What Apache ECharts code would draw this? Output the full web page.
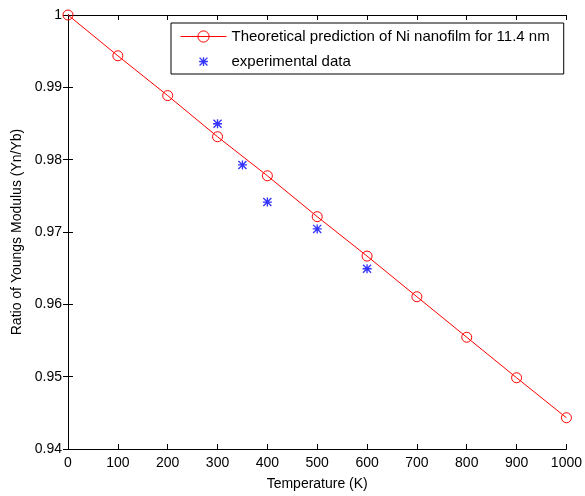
<!DOCTYPE html>
<html><head><meta charset="utf-8">
<script src="https://cdn.jsdelivr.net/npm/echarts@6/dist/echarts.min.js"></script>
<style>html,body{margin:0;padding:0;background:#fff}#c{width:585px;height:496px}</style>
</head><body><div id="c"></div>
<script>
const temps = [0,100,200,300,400,500,600,700,800,900,1000];
const theory = [1.0,0.99436,0.98886,0.98317,0.97777,0.97212,0.96667,0.96105,0.95545,0.94985,0.94432];
const expT = [300,350,400,500,600];
const expV = [0.98497,0.97927,0.97414,0.97043,0.96492];
const xTicks = [0,100,200,300,400,500,600,700,800,900,1000];
const yTicks = [0.94,0.95,0.96,0.97,0.98,0.99,1];

const FONT = 'Liberation Sans';
const starCore = 'M8.5 0L11.5 0L11.5 20L8.5 20Z M0 8.5L20 8.5L20 11.5L0 11.5Z M0 2.1L2.1 0L20 17.9L17.9 20Z M17.9 0L20 2.1L2.1 20L0 17.9Z';
const star = 'path://' + starCore;
// legend icon: same star with tiny corner marks to shrink it inside the icon box
const starIcon = 'path://' + starCore + ' M-6 -6L-5.9 -6L-6 -5.9Z M26 26L25.9 26L26 25.9Z';
const chart = echarts.init(document.getElementById('c'), null, {renderer:'canvas'});
const axLine = {show:true, lineStyle:{color:'#000', width:1}};
const tick = {show:true, inside:true, length:5, lineStyle:{color:'#000'}};
const fmtY = v => String(+v.toFixed(2));
const fmtX = v => String(Math.round(v));
chart.setOption({
  animation:false,
  backgroundColor:'#fff',
  textStyle:{fontFamily:FONT},
  grid:{left:68, right:18, top:15, bottom:46, containLabel:false},
  legend:{
    orient:'vertical', left:171, top:23,
    padding:[6,14,5,9], itemGap:10, itemWidth:46, itemHeight:14,
    borderColor:'#000', borderWidth:1, backgroundColor:'#fff',
    lineStyle:{width:1},
    itemStyle:{borderWidth:1},
    textStyle:{fontFamily:FONT, fontSize:15, color:'#000', lineHeight:15},
    data:[
      {name:'Theoretical prediction of Ni nanofilm for 11.4 nm'},
      {name:'experimental data', icon:starIcon}
    ]
  },
  xAxis:[{
    type:'value', min:0, max:1000, interval:100, position:'bottom',
    name:'Temperature (K)', nameLocation:'middle', nameGap:28,
    nameTextStyle:{fontFamily:FONT, fontSize:14, color:'#000'},
    axisLine:axLine, axisTick:tick, splitLine:{show:false},
    axisLabel:{color:'#000', fontFamily:FONT, fontSize:14, margin:7, formatter:fmtX}
  },{
    type:'value', min:0, max:1000, interval:100, position:'top',
    axisLine:axLine, axisTick:tick, splitLine:{show:false}, axisLabel:{show:false}
  }],
  yAxis:[{
    type:'value', min:0.94, max:1, interval:0.01, position:'left',
    name:'Ratio of Youngs Modulus (Yn/Yb)', nameLocation:'middle', nameGap:43,
    nameTextStyle:{fontFamily:FONT, fontSize:14, color:'#000'},
    axisLine:axLine, axisTick:tick, splitLine:{show:false},
    axisLabel:{color:'#000', fontFamily:FONT, fontSize:14, margin:6, formatter:fmtY}
  },{
    type:'value', min:0.94, max:1, interval:0.01, position:'right',
    axisLine:axLine, axisTick:tick, splitLine:{show:false}, axisLabel:{show:false}
  }],
  series:[{
    name:'Theoretical prediction of Ni nanofilm for 11.4 nm',
    type:'line', xAxisIndex:0, yAxisIndex:0,
    data: temps.map((t,i)=>[t, theory[i]]),
    symbol:'circle', symbolSize:10,
    lineStyle:{color:'#ff0000', width:1},
    itemStyle:{color:'rgba(255,255,255,0)', borderColor:'#ff0000', borderWidth:1},
    clip:false
  },{
    name:'experimental data',
    type:'scatter', xAxisIndex:0, yAxisIndex:0,
    data: expT.map((t,i)=>[t, expV[i]]),
    symbol:star, symbolSize:9,
    itemStyle:{color:'#0000ff'}
  }]
});
</script></body></html>
